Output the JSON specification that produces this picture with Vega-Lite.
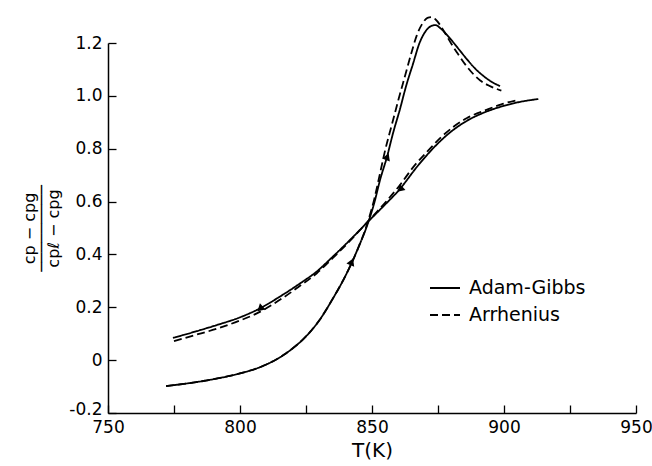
{
  "$schema": "https://vega.github.io/schema/vega-lite/v6.json",
  "width": 528,
  "height": 370,
  "autosize": "none",
  "padding": {"left": 108, "top": 43, "right": 16, "bottom": 53},
  "background": "white",
  "config": {
    "view": {"stroke": null},
    "font": "DejaVu Sans",
    "axis": {
      "grid": false,
      "domainColor": "black",
      "domainWidth": 1.5,
      "tickColor": "black",
      "tickWidth": 1.3,
      "labelColor": "black",
      "titleColor": "black",
      "labelFont": "DejaVu Sans",
      "titleFont": "DejaVu Sans",
      "labelFontSize": 17,
      "titleFontWeight": "normal"
    }
  },
  "datasets": {
    "curves": [
      {"model": "Adam-Gibbs", "branch": "AG heat", "T": 772, "v": -0.098},
      {"model": "Adam-Gibbs", "branch": "AG heat", "T": 780, "v": -0.088},
      {"model": "Adam-Gibbs", "branch": "AG heat", "T": 790, "v": -0.072},
      {"model": "Adam-Gibbs", "branch": "AG heat", "T": 800, "v": -0.05},
      {"model": "Adam-Gibbs", "branch": "AG heat", "T": 808, "v": -0.025},
      {"model": "Adam-Gibbs", "branch": "AG heat", "T": 815, "v": 0.01},
      {"model": "Adam-Gibbs", "branch": "AG heat", "T": 820, "v": 0.045},
      {"model": "Adam-Gibbs", "branch": "AG heat", "T": 825, "v": 0.09},
      {"model": "Adam-Gibbs", "branch": "AG heat", "T": 830, "v": 0.15},
      {"model": "Adam-Gibbs", "branch": "AG heat", "T": 835, "v": 0.23},
      {"model": "Adam-Gibbs", "branch": "AG heat", "T": 840, "v": 0.32},
      {"model": "Adam-Gibbs", "branch": "AG heat", "T": 845, "v": 0.43},
      {"model": "Adam-Gibbs", "branch": "AG heat", "T": 848, "v": 0.505},
      {"model": "Adam-Gibbs", "branch": "AG heat", "T": 851, "v": 0.6},
      {"model": "Adam-Gibbs", "branch": "AG heat", "T": 853, "v": 0.68},
      {"model": "Adam-Gibbs", "branch": "AG heat", "T": 855.7, "v": 0.77},
      {"model": "Adam-Gibbs", "branch": "AG heat", "T": 858, "v": 0.86},
      {"model": "Adam-Gibbs", "branch": "AG heat", "T": 860.6, "v": 0.95},
      {"model": "Adam-Gibbs", "branch": "AG heat", "T": 863, "v": 1.04},
      {"model": "Adam-Gibbs", "branch": "AG heat", "T": 865.5, "v": 1.12},
      {"model": "Adam-Gibbs", "branch": "AG heat", "T": 868, "v": 1.2},
      {"model": "Adam-Gibbs", "branch": "AG heat", "T": 870, "v": 1.24},
      {"model": "Adam-Gibbs", "branch": "AG heat", "T": 872, "v": 1.262},
      {"model": "Adam-Gibbs", "branch": "AG heat", "T": 874, "v": 1.268},
      {"model": "Adam-Gibbs", "branch": "AG heat", "T": 876, "v": 1.255},
      {"model": "Adam-Gibbs", "branch": "AG heat", "T": 878, "v": 1.235},
      {"model": "Adam-Gibbs", "branch": "AG heat", "T": 880, "v": 1.212},
      {"model": "Adam-Gibbs", "branch": "AG heat", "T": 883, "v": 1.175},
      {"model": "Adam-Gibbs", "branch": "AG heat", "T": 886, "v": 1.138},
      {"model": "Adam-Gibbs", "branch": "AG heat", "T": 889, "v": 1.104},
      {"model": "Adam-Gibbs", "branch": "AG heat", "T": 892, "v": 1.077},
      {"model": "Adam-Gibbs", "branch": "AG heat", "T": 895, "v": 1.055},
      {"model": "Adam-Gibbs", "branch": "AG heat", "T": 898.5, "v": 1.037},

      {"model": "Arrhenius", "branch": "Ar heat", "T": 772, "v": -0.098},
      {"model": "Arrhenius", "branch": "Ar heat", "T": 780, "v": -0.088},
      {"model": "Arrhenius", "branch": "Ar heat", "T": 790, "v": -0.072},
      {"model": "Arrhenius", "branch": "Ar heat", "T": 800, "v": -0.05},
      {"model": "Arrhenius", "branch": "Ar heat", "T": 808, "v": -0.025},
      {"model": "Arrhenius", "branch": "Ar heat", "T": 815, "v": 0.01},
      {"model": "Arrhenius", "branch": "Ar heat", "T": 820, "v": 0.045},
      {"model": "Arrhenius", "branch": "Ar heat", "T": 825, "v": 0.09},
      {"model": "Arrhenius", "branch": "Ar heat", "T": 830, "v": 0.15},
      {"model": "Arrhenius", "branch": "Ar heat", "T": 835, "v": 0.23},
      {"model": "Arrhenius", "branch": "Ar heat", "T": 840, "v": 0.32},
      {"model": "Arrhenius", "branch": "Ar heat", "T": 845, "v": 0.43},
      {"model": "Arrhenius", "branch": "Ar heat", "T": 848, "v": 0.51},
      {"model": "Arrhenius", "branch": "Ar heat", "T": 851, "v": 0.615},
      {"model": "Arrhenius", "branch": "Ar heat", "T": 853, "v": 0.705},
      {"model": "Arrhenius", "branch": "Ar heat", "T": 855, "v": 0.795},
      {"model": "Arrhenius", "branch": "Ar heat", "T": 857.5, "v": 0.89},
      {"model": "Arrhenius", "branch": "Ar heat", "T": 860, "v": 0.985},
      {"model": "Arrhenius", "branch": "Ar heat", "T": 862.5, "v": 1.075},
      {"model": "Arrhenius", "branch": "Ar heat", "T": 865, "v": 1.165},
      {"model": "Arrhenius", "branch": "Ar heat", "T": 867, "v": 1.23},
      {"model": "Arrhenius", "branch": "Ar heat", "T": 869, "v": 1.272},
      {"model": "Arrhenius", "branch": "Ar heat", "T": 871, "v": 1.295},
      {"model": "Arrhenius", "branch": "Ar heat", "T": 872.5, "v": 1.298},
      {"model": "Arrhenius", "branch": "Ar heat", "T": 874, "v": 1.29},
      {"model": "Arrhenius", "branch": "Ar heat", "T": 876, "v": 1.265},
      {"model": "Arrhenius", "branch": "Ar heat", "T": 878, "v": 1.232},
      {"model": "Arrhenius", "branch": "Ar heat", "T": 880, "v": 1.198},
      {"model": "Arrhenius", "branch": "Ar heat", "T": 882.6, "v": 1.158},
      {"model": "Arrhenius", "branch": "Ar heat", "T": 886, "v": 1.11},
      {"model": "Arrhenius", "branch": "Ar heat", "T": 888.5, "v": 1.081},
      {"model": "Arrhenius", "branch": "Ar heat", "T": 891, "v": 1.058},
      {"model": "Arrhenius", "branch": "Ar heat", "T": 894, "v": 1.04},
      {"model": "Arrhenius", "branch": "Ar heat", "T": 897.3, "v": 1.026},
      {"model": "Arrhenius", "branch": "Ar heat", "T": 899, "v": 1.02},

      {"model": "Adam-Gibbs", "branch": "AG cool", "T": 774.6, "v": 0.084},
      {"model": "Adam-Gibbs", "branch": "AG cool", "T": 783, "v": 0.108},
      {"model": "Adam-Gibbs", "branch": "AG cool", "T": 791.3, "v": 0.133},
      {"model": "Adam-Gibbs", "branch": "AG cool", "T": 800, "v": 0.162},
      {"model": "Adam-Gibbs", "branch": "AG cool", "T": 806.4, "v": 0.19},
      {"model": "Adam-Gibbs", "branch": "AG cool", "T": 816, "v": 0.246},
      {"model": "Adam-Gibbs", "branch": "AG cool", "T": 822.7, "v": 0.29},
      {"model": "Adam-Gibbs", "branch": "AG cool", "T": 829, "v": 0.335},
      {"model": "Adam-Gibbs", "branch": "AG cool", "T": 835, "v": 0.39},
      {"model": "Adam-Gibbs", "branch": "AG cool", "T": 842, "v": 0.458},
      {"model": "Adam-Gibbs", "branch": "AG cool", "T": 848, "v": 0.519},
      {"model": "Adam-Gibbs", "branch": "AG cool", "T": 854, "v": 0.579},
      {"model": "Adam-Gibbs", "branch": "AG cool", "T": 860.6, "v": 0.648},
      {"model": "Adam-Gibbs", "branch": "AG cool", "T": 867, "v": 0.731},
      {"model": "Adam-Gibbs", "branch": "AG cool", "T": 873, "v": 0.8},
      {"model": "Adam-Gibbs", "branch": "AG cool", "T": 880, "v": 0.865},
      {"model": "Adam-Gibbs", "branch": "AG cool", "T": 886, "v": 0.906},
      {"model": "Adam-Gibbs", "branch": "AG cool", "T": 892, "v": 0.935},
      {"model": "Adam-Gibbs", "branch": "AG cool", "T": 898.5, "v": 0.958},
      {"model": "Adam-Gibbs", "branch": "AG cool", "T": 905, "v": 0.975},
      {"model": "Adam-Gibbs", "branch": "AG cool", "T": 913, "v": 0.988},

      {"model": "Arrhenius", "branch": "Ar cool", "T": 775, "v": 0.072},
      {"model": "Arrhenius", "branch": "Ar cool", "T": 783, "v": 0.095},
      {"model": "Arrhenius", "branch": "Ar cool", "T": 791, "v": 0.118},
      {"model": "Arrhenius", "branch": "Ar cool", "T": 800, "v": 0.15},
      {"model": "Arrhenius", "branch": "Ar cool", "T": 806, "v": 0.175},
      {"model": "Arrhenius", "branch": "Ar cool", "T": 816, "v": 0.234},
      {"model": "Arrhenius", "branch": "Ar cool", "T": 822, "v": 0.276},
      {"model": "Arrhenius", "branch": "Ar cool", "T": 829, "v": 0.328},
      {"model": "Arrhenius", "branch": "Ar cool", "T": 835, "v": 0.385},
      {"model": "Arrhenius", "branch": "Ar cool", "T": 842, "v": 0.455},
      {"model": "Arrhenius", "branch": "Ar cool", "T": 848, "v": 0.52},
      {"model": "Arrhenius", "branch": "Ar cool", "T": 854, "v": 0.585},
      {"model": "Arrhenius", "branch": "Ar cool", "T": 860, "v": 0.655},
      {"model": "Arrhenius", "branch": "Ar cool", "T": 866, "v": 0.735},
      {"model": "Arrhenius", "branch": "Ar cool", "T": 871, "v": 0.79},
      {"model": "Arrhenius", "branch": "Ar cool", "T": 876, "v": 0.842},
      {"model": "Arrhenius", "branch": "Ar cool", "T": 881, "v": 0.884},
      {"model": "Arrhenius", "branch": "Ar cool", "T": 886, "v": 0.916},
      {"model": "Arrhenius", "branch": "Ar cool", "T": 893.6, "v": 0.948},
      {"model": "Arrhenius", "branch": "Ar cool", "T": 899, "v": 0.968},
      {"model": "Arrhenius", "branch": "Ar cool", "T": 905, "v": 0.984}
    ],
    "arrows": [
      {"dir": "heating", "T": 842.3, "v": 0.372},
      {"dir": "heating", "T": 855.8, "v": 0.77},
      {"dir": "cooling", "T": 860.6, "v": 0.646},
      {"dir": "cooling", "T": 807.6, "v": 0.194}
    ]
  },
  "layer": [
    {
      "data": {"name": "curves"},
      "mark": {"type": "line", "color": "black", "strokeWidth": 1.8, "interpolate": "monotone"},
      "encoding": {
        "x": {
          "field": "T", "type": "quantitative",
          "scale": {"domain": [750, 950], "nice": false, "zero": false},
          "axis": {
            "title": "T(K)",
            "titleFontSize": 20,
            "titlePadding": 5,
            "values": [750, 775, 800, 825, 850, 875, 900, 925, 950],
            "labelExpr": "datum.value % 50 == 0 ? datum.label : ''",
            "tickSize": -8,
            "labelPadding": 14,
            "labelFlush": false
          }
        },
        "y": {
          "field": "v", "type": "quantitative",
          "scale": {"domain": [-0.2, 1.2], "nice": false, "zero": false},
          "axis": {
            "title": ["cp − cpg", "─────────", "cpℓ − cpg"],
            "titleFontSize": 16,
            "titleLineHeight": 12,
            "titlePadding": 7,
            "values": [-0.2, 0, 0.2, 0.4, 0.6, 0.8, 1.0, 1.2],
            "labelExpr": "datum.value == 0 ? '0' : replace(format(datum.value, '.1f'), '−', '-')",
            "labelOffset": {"condition": {"test": "datum.value < -0.1", "value": -4}, "value": 0},
            "tickSize": -8,
            "labelPadding": 14,
            "labelFlush": false
          }
        },
        "strokeDash": {
          "field": "model", "type": "nominal",
          "scale": {"domain": ["Adam-Gibbs", "Arrhenius"], "range": [[1, 0], [8, 4]]},
          "legend": {
            "title": null,
            "orient": "none",
            "legendX": 321,
            "legendY": 229,
            "symbolType": "stroke",
            "symbolSize": 900,
            "symbolStrokeWidth": 2,
            "symbolStrokeColor": "black",
            "labelFontSize": 19,
            "labelFont": "DejaVu Sans",
            "labelColor": "black",
            "labelOffset": 8,
            "rowPadding": 1,
            "padding": 0
          }
        },
        "detail": {"field": "branch", "type": "nominal"}
      }
    },
    {
      "data": {"name": "arrows"},
      "transform": [{"filter": "datum.dir == 'heating'"}],
      "mark": {"type": "point", "shape": "triangle-up", "filled": true, "color": "black", "size": 70, "angle": 22, "opacity": 1},
      "encoding": {
        "x": {"field": "T", "type": "quantitative"},
        "y": {"field": "v", "type": "quantitative"}
      }
    },
    {
      "data": {"name": "arrows"},
      "transform": [{"filter": "datum.dir == 'cooling'"}],
      "mark": {"type": "point", "shape": "triangle-up", "filled": true, "color": "black", "size": 70, "angle": 228, "opacity": 1},
      "encoding": {
        "x": {"field": "T", "type": "quantitative"},
        "y": {"field": "v", "type": "quantitative"}
      }
    }
  ]
}
